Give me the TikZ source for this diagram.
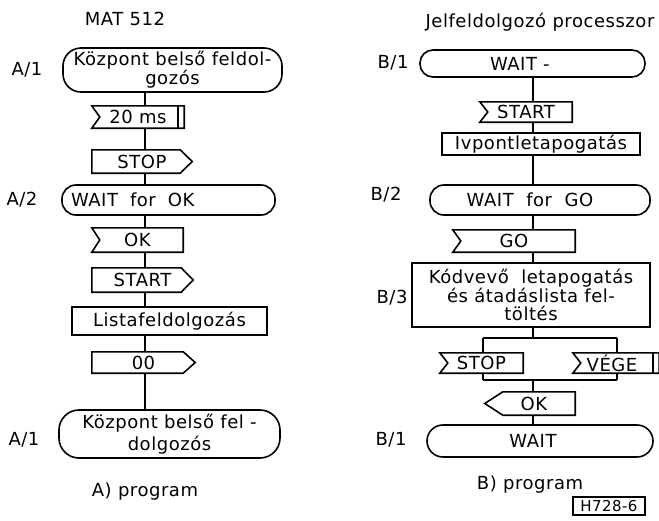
\documentclass[tikz,border=0pt]{standalone}
\usepackage{fontspec}
\setmainfont{DejaVu Sans}[LetterSpace=3]
\begin{document}
\begin{tikzpicture}[x=1pt,y=-1pt,
  lw/.style={line width=1.6pt},
  txt/.style={font=\fontsize{18}{20}\selectfont, inner sep=0pt},
  term/.style={txt, draw, lw, rounded corners=#1},
  term/.default=14pt,
  proc/.style={txt, draw, lw},
  sigin/.style={txt, append after command={\pgfextra{\draw[lw] (\tikzlastnode.north west) -- (\tikzlastnode.north east) -- (\tikzlastnode.south east) -- (\tikzlastnode.south west) -- ([xshift=8pt]\tikzlastnode.west) -- cycle;}}},
  timer/.style={sigin, append after command={\pgfextra{\draw[lw] ([xshift=-6pt]\tikzlastnode.north east) -- ([xshift=-6pt]\tikzlastnode.south east);}}},
  sigoutr/.style={txt, append after command={\pgfextra{\draw[lw] (\tikzlastnode.north west) -- ([xshift=-12pt]\tikzlastnode.north east) -- (\tikzlastnode.east) -- ([xshift=-12pt]\tikzlastnode.south east) -- (\tikzlastnode.south west) -- cycle;}}},
  sigoutl/.style={txt, append after command={\pgfextra{\draw[lw] ([xshift=18pt]\tikzlastnode.north west) -- (\tikzlastnode.north east) -- (\tikzlastnode.south east) -- ([xshift=18pt]\tikzlastnode.south west) -- (\tikzlastnode.west) -- cycle;}}},
  lbl/.style={txt},
  conn/.style={line width=1.2pt}
]
\useasboundingbox[fill=white] (0,0) rectangle (659,520);

% ---------- A column ----------
\coordinate (ax) at (145,0);
\node[lbl] (mat) at (125,19) {MAT 512};
\node[lbl] (la1) at (27,70) {A/1};
\node[term=18pt, minimum width=219pt, minimum height=44pt, align=center, font=\fontsize{18}{15}\selectfont] (a1) at (172.5,70) {Központ belső feldol-\\gozós};
\node[timer, minimum width=92pt, minimum height=22pt] (t20) at (138,117) {20 ms};
\node[sigoutr, minimum width=100pt, minimum height=23pt] (stop1) at (142,161.5) {STOP};
\node[lbl] (la2) at (22,200) {A/2};
\node[term, minimum width=213pt, minimum height=30pt, text width=195pt, align=left] (a2) at (168.5,200) {WAIT\ \ for\ \ OK};
\node[sigin, minimum width=91pt, minimum height=24pt] (ok1) at (137.5,240) {OK};
\node[sigoutr, minimum width=101pt, minimum height=24pt] (start1) at (142.5,280) {START};
\node[proc, minimum width=195pt, minimum height=28pt] (lista) at (169.5,321) {Listafeldolgozás};
\node[sigoutr, minimum width=103pt, minimum height=21pt] (o00) at (143.5,362.5) {00};
\node[lbl] (la3) at (24,440) {A/1};
\node[term=20pt, minimum width=221pt, minimum height=48pt, align=center, font=\fontsize{18}{22}\selectfont] (a1b) at (169.5,434) {Központ belső fel -\\dolgozós};
\node[lbl] (progA) at (145,492) {A) program};

\draw[conn] (ax |- a1.south) -- (ax |- t20.north);
\draw[conn] (ax |- t20.south) -- (ax |- stop1.north);
\draw[conn] (ax |- stop1.south) -- (ax |- a2.north);
\draw[conn] (ax |- a2.south) -- (ax |- ok1.north);
\draw[conn] (ax |- ok1.south) -- (ax |- start1.north);
\draw[conn] (ax |- start1.south) -- (ax |- lista.north);
\draw[conn] (ax |- lista.south) -- (ax |- o00.north);
\draw[conn] (ax |- o00.south) -- (ax |- a1b.north);

% ---------- B column ----------
\coordinate (bx) at (533,0);
\node[lbl] (jel) at (540,22) {Jelfeldolgozó processzor};
\node[lbl] (lb1) at (393,63) {B/1};
\node[term=13pt, minimum width=225pt, minimum height=27pt, text width=205pt, align=left] (b1) at (532.5,63.5) {\hspace*{60pt}WAIT -};
\node[sigin, minimum width=92pt, minimum height=20pt] (startB) at (526,112) {START};
\node[proc, minimum width=198pt, minimum height=22pt] (ivp) at (541,144) {Ivpontletapogatás};
\node[lbl] (lb2) at (386,195) {B/2};
\node[term, minimum width=220pt, minimum height=30pt] (b2) at (540,200) {WAIT\ \ for\ \ GO\hspace*{20pt}};
\node[sigin, minimum width=122pt, minimum height=22pt] (go) at (514,241) {GO};
\node[lbl] (lb3) at (392,298) {B/3};
\node[proc, minimum width=238pt, minimum height=64pt, align=center, font=\fontsize{18}{18}\selectfont] (kod) at (531,295) {Kódvevő\ \ letapogatás\\és\ átadáslista\ fel-\\töltés};
\coordinate (sl) at (483,338);
\coordinate (sr) at (617,338);
\node[sigin, minimum width=83pt, minimum height=20pt] (stopB) at (481.5,363) {STOP};
\node[timer, minimum width=86pt, minimum height=20pt] (vege) at (616,363) {VÉGE\hspace*{8pt}};
\coordinate (ml) at (483,380);
\coordinate (mr) at (617,380);
\node[sigoutl, minimum width=90pt, minimum height=23pt] (okB) at (530,403.5) {\hspace*{8pt}OK};
\node[lbl] (lb4) at (391,440) {B/1};
\node[term=16pt, minimum width=226pt, minimum height=32pt] (b1b) at (540,441) {WAIT\hspace*{14pt}};
\node[lbl] (progB) at (530,485) {B) program};
\node[txt, draw, line width=1.2pt, minimum width=72pt, minimum height=18pt, font=\fontsize{15}{17}\selectfont] (h728) at (609,506) {H728-6};

\draw[conn] (bx |- b1.south) -- (bx |- startB.north);
\draw[conn] (bx |- startB.south) -- (bx |- ivp.north);
\draw[conn] (bx |- ivp.south) -- (bx |- b2.north);
\draw[conn] (bx |- b2.south) -- (bx |- go.north);
\draw[conn] (bx |- go.south) -- (bx |- kod.north);
\draw[conn] (bx |- kod.south) -- (bx |- sl);
\draw[conn] (sl) -- (sr);
\draw[conn] (sl) -- (sl |- stopB.north);
\draw[conn] (sr) -- (sr |- vege.north);
\draw[conn] (sl |- stopB.south) -- (ml);
\draw[conn] (sr |- vege.south) -- (mr);
\draw[conn] (ml) -- (mr);
\draw[conn] (bx |- ml) -- (bx |- okB.north);
\draw[conn] (bx |- okB.south) -- (bx |- b1b.north);
\end{tikzpicture}
\end{document}
